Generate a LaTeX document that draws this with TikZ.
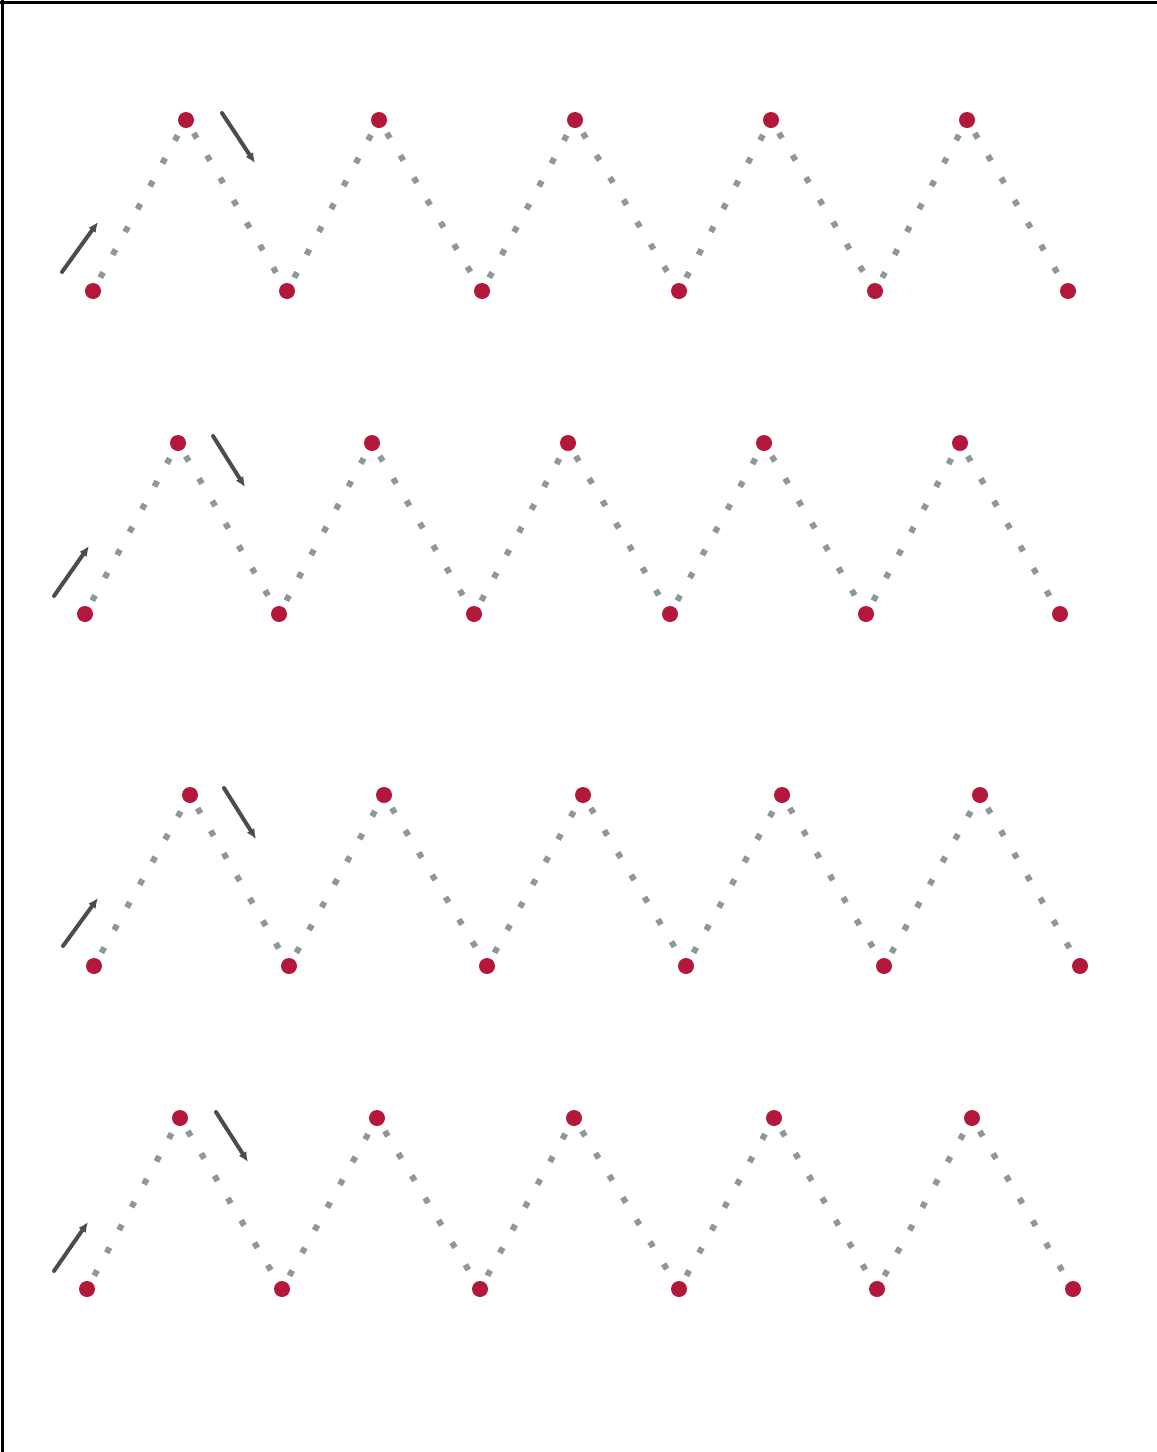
\documentclass[tikz,border=0pt]{standalone}
\usetikzlibrary{arrows.meta,calc}
\definecolor{ink}{HTML}{000000}
\definecolor{beadRed}{HTML}{B3183A}
\definecolor{trailGrey}{HTML}{8C9996}
\definecolor{hintInk}{HTML}{4A4D4F}
\tikzset{
  >={Latex[length=10pt,width=9pt]},
  bead/.style={circle,fill=beadRed,draw=none,minimum size=16pt,inner sep=0pt},
  trail/.style={trailGrey,line width=6pt,dash pattern=on 6pt off 20pt,dash phase=-7pt},
  hint/.style={->,hintInk,line width=4pt,line cap=round},
  frame/.style={ink,line width=3pt},
}
\begin{document}
\begin{tikzpicture}[x=1pt,y=-1pt]
\useasboundingbox (0,0) rectangle (1157,1452);
\draw[frame] (0,2.5) -- (1157,2.5);
\draw[frame] (2.5,0) -- (2.5,1452);

% ================= ROW 1 =================
\foreach \x [count=\i from 0] in {93,186,287,379,482,575,679,771,875,967,1068}
  {\ifodd\i \node[bead] (a\i) at (\x,120) {}; \else \node[bead] (a\i) at (\x,291) {}; \fi}
\foreach \i [evaluate=\i as \j using int(\i+1)] in {0,...,9} {\draw[trail] (a\i) -- (a\j);}
\coordinate (aUp0) at ($(a0)+(-31,-19)$); \coordinate (aUp1) at ($(a0)+(5,-69)$);
\coordinate (aDn0) at ($(a1)+(36,-7)$);   \coordinate (aDn1) at ($(a1)+(69,43)$);
\draw[hint] (aUp0) -- (aUp1);
\draw[hint] (aDn0) -- (aDn1);

% ================= ROW 2 =================
\foreach \x [count=\i from 0] in {85,178,279,372,474,568,670,764,866,960,1060}
  {\ifodd\i \node[bead] (b\i) at (\x,443) {}; \else \node[bead] (b\i) at (\x,614) {}; \fi}
\foreach \i [evaluate=\i as \j using int(\i+1)] in {0,...,9} {\draw[trail] (b\i) -- (b\j);}
\coordinate (bUp0) at ($(b0)+(-31,-18)$); \coordinate (bUp1) at ($(b0)+(4,-68)$);
\coordinate (bDn0) at ($(b1)+(35,-7)$);   \coordinate (bDn1) at ($(b1)+(67,44)$);
\draw[hint] (bUp0) -- (bUp1);
\draw[hint] (bDn0) -- (bDn1);

% ================= ROW 3 =================
\foreach \x [count=\i from 0] in {94,190,289,384,487,583,686,782,884,980,1080}
  {\ifodd\i \node[bead] (c\i) at (\x,795) {}; \else \node[bead] (c\i) at (\x,966) {}; \fi}
\foreach \i [evaluate=\i as \j using int(\i+1)] in {0,...,9} {\draw[trail] (c\i) -- (c\j);}
\coordinate (cUp0) at ($(c0)+(-31,-20)$); \coordinate (cUp1) at ($(c0)+(4,-68)$);
\coordinate (cDn0) at ($(c1)+(34,-7)$);   \coordinate (cDn1) at ($(c1)+(66,44)$);
\draw[hint] (cUp0) -- (cUp1);
\draw[hint] (cDn0) -- (cDn1);

% ================= ROW 4 =================
\foreach \x [count=\i from 0] in {87,180,282,377,480,574,679,774,877,972,1073}
  {\ifodd\i \node[bead] (d\i) at (\x,1118) {}; \else \node[bead] (d\i) at (\x,1289) {}; \fi}
\foreach \i [evaluate=\i as \j using int(\i+1)] in {0,...,9} {\draw[trail] (d\i) -- (d\j);}
\coordinate (dUp0) at ($(d0)+(-33,-18)$); \coordinate (dUp1) at ($(d0)+(1,-67)$);
\coordinate (dDn0) at ($(d1)+(36,-6)$);   \coordinate (dDn1) at ($(d1)+(68,44)$);
\draw[hint] (dUp0) -- (dUp1);
\draw[hint] (dDn0) -- (dDn1);

\end{tikzpicture}
\end{document}
